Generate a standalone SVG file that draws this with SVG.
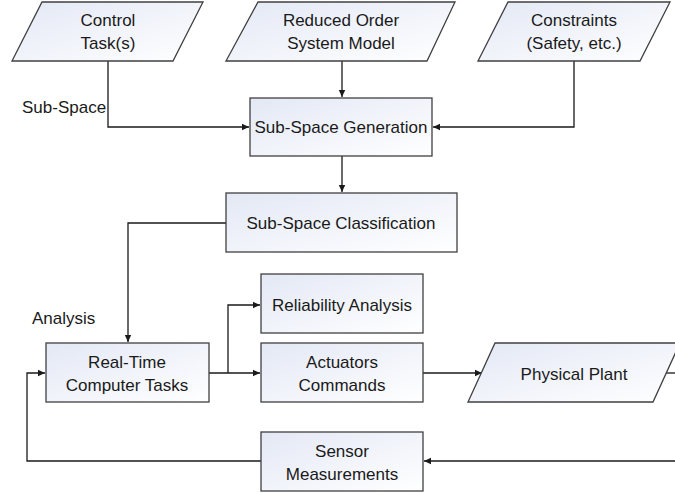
<svg xmlns="http://www.w3.org/2000/svg" width="675" height="493" viewBox="0 0 675 493">
<style>
.n{stroke:#404040;stroke-width:1.3;fill:url(#g)}
.t{font-family:"Liberation Sans",Arial,sans-serif;font-size:17px;fill:#1a1a1a;text-anchor:middle}
.l{font-family:"Liberation Sans",Arial,sans-serif;font-size:17px;fill:#1a1a1a}
.c{stroke:#1a1a1a;stroke-width:1.3;fill:none;marker-end:url(#a)}
.c0{stroke:#1a1a1a;stroke-width:1.3;fill:none}
</style>
<defs>
<linearGradient id="g" x1="0" y1="0" x2="1" y2="1">
<stop offset="0" stop-color="#e3e8f5"/>
<stop offset="1" stop-color="#ffffff"/>
</linearGradient>
<marker id="a" markerWidth="8" markerHeight="8" refX="7" refY="4" orient="auto" markerUnits="userSpaceOnUse">
<path d="M0,0.8 L7,4 L0,7.2 Z" fill="#1a1a1a"/>
</marker>
</defs>
<g id="connectors">
<path class="c" d="M342,61 V97"/>
<path class="c" d="M108,61 V127 H249"/>
<path class="c" d="M574,61 V127 H433"/>
<path class="c" d="M342,156 V192"/>
<path class="c" d="M226,223 H128 V342"/>
<path class="c" d="M209,373 H260"/>
<path class="c" d="M228,373 V305 H260"/>
<path class="c" d="M423,373 H482"/>
<path class="c0" d="M666,373 H675"/>
<path class="c" d="M675,461 H424"/>
<path class="c" d="M261,461 H27 V373 H45"/>
</g>
<g id="control-tasks">
<polygon class="n" points="42,2 203,2 173,61 12,61"/>
<text class="t" x="108" y="26">Control</text>
<text class="t" x="108" y="49">Task(s)</text>
</g>
<g id="reduced-order">
<polygon class="n" points="258,2 455,2 427,61 226,61"/>
<text class="t" x="341" y="26">Reduced Order</text>
<text class="t" x="341" y="49">System Model</text>
</g>
<g id="constraints">
<polygon class="n" points="508,2 670,2 640,61 478,61"/>
<text class="t" x="574" y="26">Constraints</text>
<text class="t" x="574" y="49">(Safety, etc.)</text>
</g>
<g id="sub-space-generation">
<rect class="n" x="250" y="98" width="182" height="58"/>
<text class="t" x="341" y="133">Sub-Space Generation</text>
</g>
<g id="sub-space-classification">
<rect class="n" x="226" y="193" width="231" height="59"/>
<text class="t" x="341" y="229">Sub-Space Classification</text>
</g>
<g id="reliability-analysis">
<rect class="n" x="261" y="274" width="162" height="59"/>
<text class="t" x="342" y="311">Reliability Analysis</text>
</g>
<g id="real-time-tasks">
<rect class="n" x="46" y="343" width="163" height="59"/>
<text class="t" x="127" y="368">Real-Time</text>
<text class="t" x="127" y="391">Computer Tasks</text>
</g>
<g id="actuators-commands">
<rect class="n" x="261" y="343" width="162" height="59"/>
<text class="t" x="342" y="368">Actuators</text>
<text class="t" x="342" y="391">Commands</text>
</g>
<g id="physical-plant">
<polygon class="n" points="495,343 680,343 653,402 468,402"/>
<text class="t" x="574" y="380">Physical Plant</text>
</g>
<g id="sensor-measurements">
<rect class="n" x="261" y="432" width="162" height="59"/>
<text class="t" x="342" y="457">Sensor</text>
<text class="t" x="342" y="480">Measurements</text>
</g>
<g id="labels">
<text class="l" x="22" y="113">Sub-Space</text>
<text class="l" x="32" y="324">Analysis</text>
</g>
</svg>
